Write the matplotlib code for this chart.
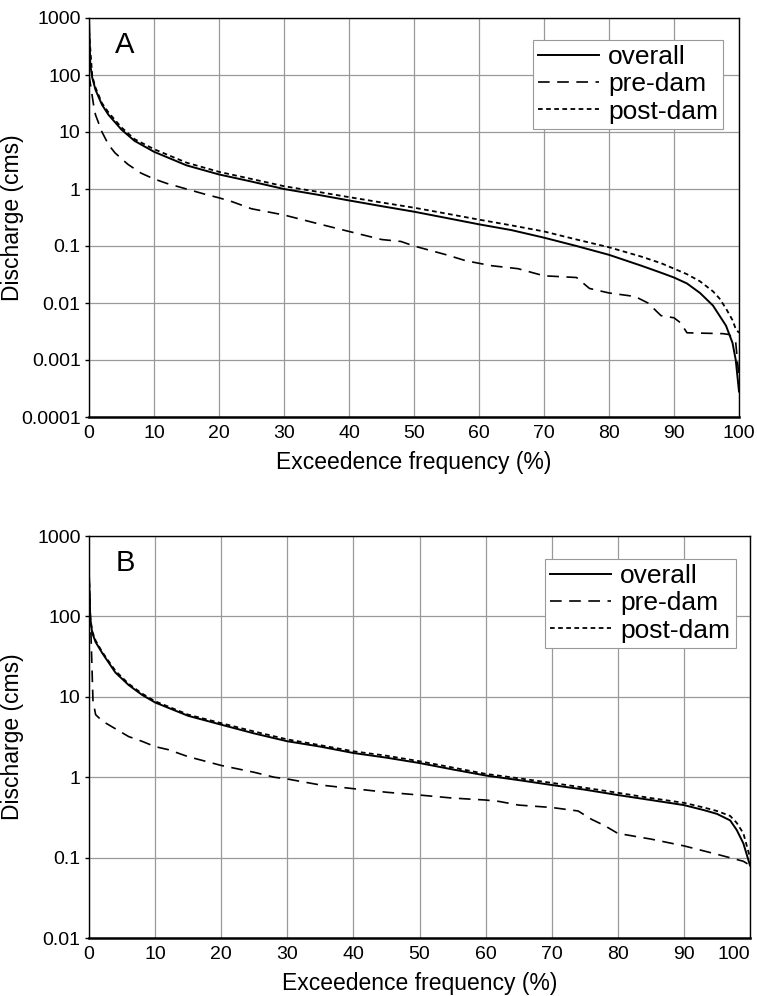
import matplotlib

matplotlib.use("Agg")
import matplotlib.pyplot as plt  # noqa: E402

plt.rcParams["font.family"] = ["Liberation Sans", "DejaVu Sans"]

# ---- panel A data (exceedence %, discharge cms) ----
a_overall_x = [0, 0.2, 0.5, 1, 2, 3, 5, 7, 10, 15, 20, 25, 30, 35, 40, 45, 50, 55, 60,
               65, 70, 75, 80, 85, 88, 90, 92, 94, 96, 97, 98, 99, 99.5, 100]
a_overall_y = [1000, 150, 90, 55, 30, 20, 11, 7, 4.5, 2.6, 1.8, 1.35, 1.0, 0.8, 0.63, 0.5,
               0.4, 0.31, 0.24, 0.19, 0.14, 0.1, 0.07, 0.045, 0.034, 0.028, 0.022, 0.015,
               0.009, 0.006, 0.004, 0.002, 0.001, 0.00028]
a_pre_x = [0, 0.3, 0.7, 1, 2, 3, 4, 6, 8, 10, 12, 15, 18, 20, 22, 25, 30, 35, 40, 45, 48,
           50, 55, 58, 62, 66, 70, 75, 77, 80, 84, 86, 88, 90, 91, 92, 97.5, 98.5, 99.5, 100]
a_pre_y = [100, 60, 30, 20, 10, 6, 4.3, 2.7, 1.9, 1.5, 1.25, 1.0, 0.8, 0.7, 0.6, 0.45, 0.35,
           0.25, 0.18, 0.13, 0.12, 0.1, 0.07, 0.055, 0.045, 0.04, 0.03, 0.028, 0.018, 0.015,
           0.013, 0.01, 0.006, 0.0055, 0.0045, 0.003, 0.0029, 0.0028, 0.002, 0.0005]
a_post_x = [0, 0.5, 1, 2, 3, 5, 7, 10, 15, 20, 25, 30, 35, 40, 45, 50, 55, 60, 65, 70, 75,
            80, 85, 88, 90, 92, 94, 96, 97, 98, 99, 99.5, 100]
a_post_y = [600, 95, 60, 32, 22, 12, 7.5, 5, 2.9, 2.0, 1.5, 1.12, 0.9, 0.72, 0.58, 0.47,
            0.37, 0.29, 0.23, 0.18, 0.13, 0.095, 0.065, 0.05, 0.04, 0.032, 0.024, 0.016,
            0.012, 0.008, 0.005, 0.0035, 0.003]

# ---- panel B data ----
b_overall_x = [0, 0.2, 0.5, 1, 2, 4, 6, 8, 10, 15, 20, 25, 30, 35, 40, 45, 50, 55, 60, 65,
               70, 75, 80, 85, 90, 93, 95, 97, 98, 99, 100]
b_overall_y = [330, 90, 62, 48, 35, 20, 14, 10.6, 8.5, 5.8, 4.5, 3.5, 2.8, 2.4, 2.0, 1.75,
               1.5, 1.25, 1.05, 0.92, 0.8, 0.7, 0.6, 0.52, 0.45, 0.39, 0.35, 0.29, 0.22,
               0.15, 0.08]
b_pre_x = [0, 0.3, 0.6, 1, 2, 4, 6, 8, 10, 12, 15, 20, 25, 28, 30, 35, 40, 45, 50, 55, 60,
           62, 65, 70, 74, 76, 78, 80, 85, 90, 95, 99, 100]
b_pre_y = [330, 60, 9, 6, 5, 4, 3.2, 2.8, 2.4, 2.2, 1.8, 1.4, 1.15, 1.0, 0.95, 0.8, 0.72,
           0.65, 0.6, 0.55, 0.52, 0.5, 0.45, 0.42, 0.38, 0.3, 0.25, 0.2, 0.17, 0.14, 0.11,
           0.09, 0.08]
b_post_x = [0, 0.2, 0.5, 1, 2, 4, 6, 8, 10, 15, 20, 25, 30, 35, 40, 45, 50, 55, 60, 65, 70,
            75, 80, 85, 90, 93, 95, 97, 98, 99, 100]
b_post_y = [330, 95, 65, 50, 36, 21, 14.5, 11, 8.8, 6.0, 4.7, 3.7, 2.95, 2.5, 2.1, 1.85,
            1.58, 1.32, 1.1, 0.97, 0.85, 0.74, 0.64, 0.55, 0.48, 0.42, 0.38, 0.33, 0.27,
            0.2, 0.1]

labels = ["overall", "pre-dam", "post-dam"]

fig = plt.figure(figsize=(7.57, 9.96), dpi=100)
ax_a = fig.add_axes((89 / 757, 1 - 417 / 996, 650 / 757, 399 / 996))
ax_b = fig.add_axes((89 / 757, 1 - 938 / 996, 661 / 757, 402 / 996))

panels = [
    (ax_a, "A", (1e-4, 1000), [1e-4, 1e-3, 1e-2, 0.1, 1, 10, 100, 1000],
     ["0.0001", "0.001", "0.01", "0.1", "1", "10", "100", "1000"],
     (a_overall_x, a_overall_y), (a_pre_x, a_pre_y), (a_post_x, a_post_y), (0.683, 0.945)),
    (ax_b, "B", (0.01, 1000), [0.01, 0.1, 1, 10, 100, 1000],
     ["0.01", "0.1", "1", "10", "100", "1000"],
     (b_overall_x, b_overall_y), (b_pre_x, b_pre_y), (b_post_x, b_post_y), (0.69, 0.943)),
]

for ax, tag, ylim, yt, ytl, ov, pre, post, leg_anchor in panels:
    ax.plot(ov[0], ov[1], color="black", lw=1.4, label=labels[0])
    ax.plot(pre[0], pre[1], color="black", lw=1.2, dashes=(7, 4.5), label=labels[1])
    ax.plot(post[0], post[1], color="black", lw=1.3, dashes=(2.6, 1.9), label=labels[2])
    ax.set_yscale("log")
    ax.set_ylim(*ylim)
    ax.set_xlim(0, 100)
    ax.set_yticks(yt)
    ax.set_yticklabels(ytl)
    ax.minorticks_off()
    ax.set_xticks(range(0, 101, 10))
    ax.grid(True, color="#999999", lw=0.9)
    ax.set_axisbelow(True)
    ax.tick_params(axis="both", labelsize=14, length=3, width=1, pad=3)
    ax.tick_params(axis="x", length=0, pad=6)
    for s in ax.spines.values():
        s.set_linewidth(1.0)
    ax.spines["bottom"].set_linewidth(1.8)
    ax.set_xlabel("Exceedence frequency (%)", fontsize=16.5, labelpad=6)
    ax.set_ylabel("Discharge (cms)", fontsize=16.5)
    ax.yaxis.set_label_coords(-65 / ax.bbox.width, 0.5)
    ax.text(0.04, 0.967, tag, transform=ax.transAxes, fontsize=21, va="top", ha="left")
    leg = ax.legend(loc="upper left", bbox_to_anchor=leg_anchor, fontsize=19,
                    handlelength=2.3, handletextpad=0.35, borderpad=0.2,
                    labelspacing=0.12, borderaxespad=0, fancybox=False,
                    framealpha=1, edgecolor="#999999")
    leg.get_frame().set_linewidth(0.8)

# last x tick label of panel B sits left of its gridline, as in the original
ax_b.get_xticklabels()[-1].set_horizontalalignment("right")
ax_b.get_xticklabels()[-1].set_x(100)

fig.savefig("out.png", dpi=100)
